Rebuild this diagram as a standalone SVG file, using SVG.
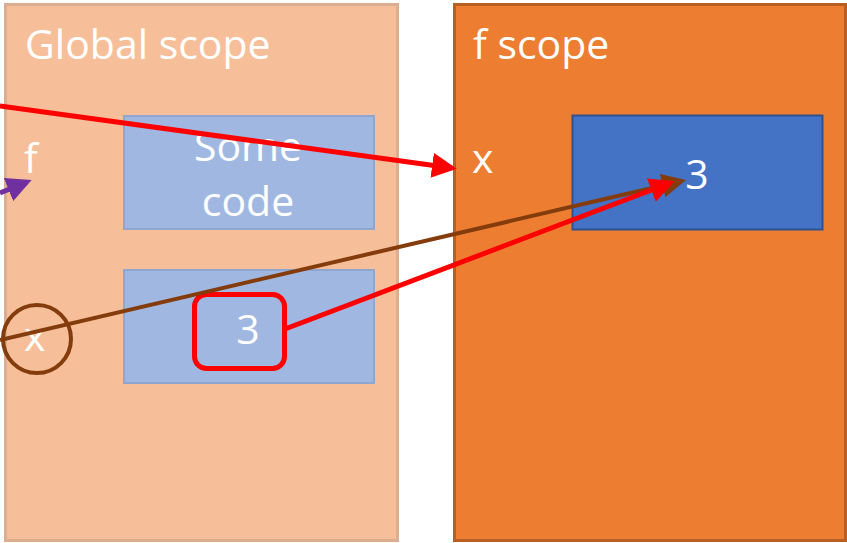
<svg xmlns="http://www.w3.org/2000/svg" width="847" height="543" viewBox="0 0 847 543">
  <style>
    .lbl { font-family: "Open Sans", "Liberation Sans", sans-serif; fill: #ffffff; }
    .big { font-size: 41px; }
    .mid { font-size: 41px; }
  </style>
  <defs>
    <marker id="ahRed" markerWidth="5" markerHeight="5" refX="4" refY="2.5" orient="auto" markerUnits="strokeWidth">
      <path d="M0,0 L5,2.5 L0,5 Z" fill="#ff0000"/>
    </marker>
    <marker id="ahBrown" markerWidth="6" markerHeight="6" refX="5" refY="3" orient="auto" markerUnits="strokeWidth">
      <path d="M0,0 L6,3 L0,6 Z" fill="#843c0c"/>
    </marker>
    <marker id="ahPurple" markerWidth="5" markerHeight="5" refX="4" refY="2.5" orient="auto" markerUnits="strokeWidth">
      <path d="M0,0 L5,2.5 L0,5 Z" fill="#7030a0"/>
    </marker>
  </defs>

  <rect width="847" height="543" fill="#ffffff"/>

  <g id="global-scope">
    <rect x="5.5" y="4.5" width="392" height="536" fill="#f6bf9a" stroke="#dcae8f" stroke-width="3"/>
    <text class="lbl big" x="25" y="59">Global scope</text>
  </g>

  <g id="f-scope">
    <rect x="454.5" y="4.5" width="391" height="536" fill="#ed7d31" stroke="#b95f24" stroke-width="3"/>
    <text class="lbl big" x="473" y="59">f scope</text>
  </g>

  <g id="some-code">
    <rect x="124" y="116" width="250" height="113" fill="#a0b8e1" stroke="#8fa7d0" stroke-width="2"/>
    <text class="lbl mid" x="248" y="161" text-anchor="middle">Some</text>
    <text class="lbl mid" x="248" y="216" text-anchor="middle">code</text>
  </g>

  <g id="global-x-box">
    <rect x="124" y="270" width="250" height="113" fill="#a0b8e1" stroke="#8fa7d0" stroke-width="2"/>
  </g>

  <g id="global-f">
    <text class="lbl mid" x="24" y="173">f</text>
  </g>

  <g id="global-x">
    <text class="lbl mid" x="24" y="351">x</text>
    <circle cx="37" cy="339" r="34" fill="none" stroke="#843c0c" stroke-width="4"/>
  </g>

  <g id="value-3">
    <rect x="194.5" y="294.5" width="90" height="74" rx="12" fill="#a0b8e1" stroke="#ff0000" stroke-width="5"/>
    <text class="lbl mid" x="248" y="344" text-anchor="middle">3</text>
  </g>

  <g id="f-x">
    <text class="lbl mid" x="472" y="173">x</text>
  </g>

  <g id="f-x-value">
    <rect x="572.5" y="115.5" width="250" height="114" fill="#4472c4" stroke="#2f528f" stroke-width="2"/>
    <text class="lbl mid" x="697" y="189" text-anchor="middle">3</text>
  </g>

  <g id="connectors">
    <line x1="0" y1="106" x2="452" y2="168" stroke="#ff0000" stroke-width="5" marker-end="url(#ahRed)"/>
    <line x1="0" y1="340" x2="682" y2="181" stroke="#843c0c" stroke-width="4" marker-end="url(#ahBrown)"/>
    <line x1="285" y1="329" x2="670" y2="183" stroke="#ff0000" stroke-width="5" marker-end="url(#ahRed)"/>
    <line x1="0" y1="193" x2="27" y2="182" stroke="#7030a0" stroke-width="5" marker-end="url(#ahPurple)"/>
  </g>
</svg>
